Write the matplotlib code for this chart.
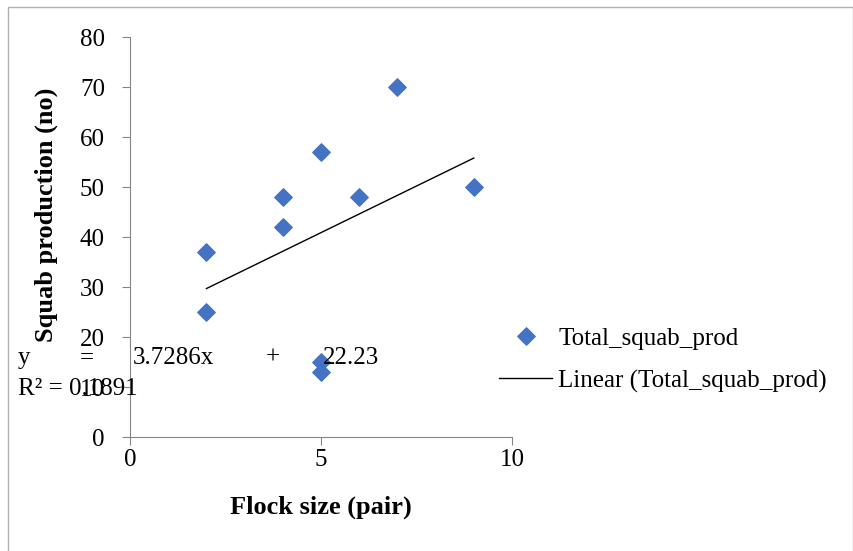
import numpy as np
import matplotlib.pyplot as plt
from matplotlib.patches import Rectangle

plt.rcParams['font.family'] = ['Liberation Serif', 'DejaVu Serif']

flock_size = [2, 2, 4, 4, 5, 5, 5, 6, 7, 9]
squab_prod = [37, 25, 48, 42, 57, 15, 13, 48, 70, 50]
x_ticks = [0, 5, 10]
y_ticks = [0, 10, 20, 30, 40, 50, 60, 70, 80]

slope, intercept = np.polyfit(flock_size, squab_prod, 1)
r2 = np.corrcoef(flock_size, squab_prod)[0, 1] ** 2

fig = plt.figure(figsize=(8.54, 5.51), dpi=100)
ax = fig.add_axes([130 / 854, 1 - 437 / 551, 382 / 854, 400 / 551])

ax.scatter(flock_size, squab_prod, marker='D', s=78, color='#4472C4',
           label='Total_squab_prod', zorder=3)
xs = np.array([min(flock_size), max(flock_size)])
ax.plot(xs, slope * xs + intercept, color='black', lw=1,
        label='Linear (Total_squab_prod)')

ax.set_xlim(0, 10)
ax.set_ylim(0, 80)
ax.set_xticks(x_ticks)
ax.set_yticks(y_ticks)
for s in ['top', 'right']:
    ax.spines[s].set_visible(False)
for s in ['left', 'bottom']:
    ax.spines[s].set_color('#868686')
ax.tick_params(colors='#868686', labelcolor='black', labelsize=18,
               direction='out', length=6)
ax.tick_params(axis='y', pad=12)
ax.tick_params(axis='x', pad=3)

ax.set_xlabel('Flock size (pair)', fontsize=19, fontweight='bold')
ax.set_ylabel('Squab production (no)', fontsize=19, fontweight='bold')
ax.xaxis.set_label_coords(0.5, (437 - 496) / 400)
ax.yaxis.set_label_coords((58 - 130) / 382, (437 - 215) / 400)

fig.legend(loc='upper left', bbox_to_anchor=(482 / 854, 1 - 310 / 551),
           frameon=False, fontsize=18, handlelength=2.1, handletextpad=0.25,
           labelspacing=0.78, scatteryoffsets=[0.5], borderpad=0.2)

# trendline equation as Excel placed it (justified, overlapping the axis)
eq_y = 1 - 358 / 551
for txt, xp in [('y', 18), ('=', 80), ('%.4fx' % slope, 133), ('+', 266), ('%.2f' % intercept, 323)]:
    fig.text(xp / 854, eq_y, txt, fontsize=18, va='center')
fig.text(18 / 854, 1 - 389 / 551, 'R² = %.4f' % r2, fontsize=18, va='center')

fig.patches.append(Rectangle((8 / 854, -0.01), 845 / 854, 1 - 7 / 551 + 0.01,
                             transform=fig.transFigure, fill=False,
                             edgecolor='#b0b0b0', lw=1))

fig.savefig('out.png', dpi=100)
